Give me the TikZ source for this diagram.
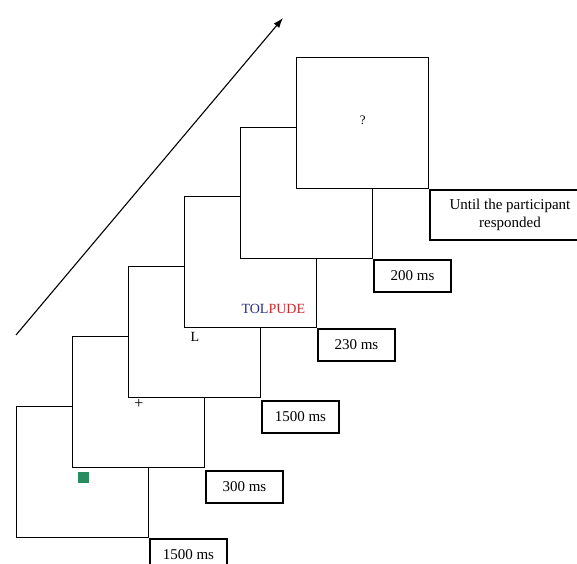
\documentclass[tikz,border=0pt]{standalone}
\usepackage{xcolor}
\usepackage{fontspec}
\setmainfont{Liberation Serif}
\usepackage{tikz}
\usetikzlibrary{arrows.meta, positioning}
\definecolor{tolblue}{RGB}{40,45,140}
\definecolor{pudered}{RGB}{205,40,45}
\definecolor{cuegreen}{RGB}{40,140,95}
\tikzset{
    screen/.style={
        rectangle, draw=black, fill=white, line width=1.3pt, inner sep=0pt,
        minimum width=132pt, minimum height=131pt, anchor=north west
    },
    duration/.style={
        rectangle, draw=black, fill=white, line width=1.3pt, inner sep=0pt,
        minimum width=77pt, minimum height=32pt, anchor=north west,
        font=\fontsize{15}{17}\selectfont
    },
    duration_wide/.style={
        duration, minimum width=160pt, minimum height=50pt, align=center,
        font=\fontsize{15}{18}\selectfont
    },
    cue/.style={
        rectangle, fill=cuegreen, inner sep=0pt, minimum size=11pt, anchor=north west
    },
    stim/.style={
        inner sep=0pt, font=\fontsize{14}{16}\selectfont
    },
    arrow/.style={
        line width=1.1pt, -{Latex[length=10pt, width=7pt]}, draw=black
    }
}

\begin{document}
\begin{tikzpicture}[x=1pt, y=-1pt]
    \useasboundingbox (0,0) rectangle (577,563);

    % trial screens, back to front
    \node[screen] (scr1) at (16, 406) {};
    \node[screen] (scr2) at (72, 336) {};
    \node[screen] (scr3) at (128, 266) {};
    \node[screen] (scr4) at (184, 196) {};
    \node[screen] (scr5) at (240, 127) {};
    \node[screen] (scr6) at (296, 57) {};

    % durations
    \node[duration] (dur1) at (scr1.south east) {1500 ms};
    \node[duration] (dur2) at ([yshift=-2pt]scr2.south east) {300 ms};
    \node[duration] (dur3) at ([yshift=-2pt]scr3.south east) {1500 ms};
    \node[duration] (dur4) at (scr4.south east) {230 ms};
    \node[duration] (dur5) at (scr5.south east) {200 ms};
    \node[duration_wide] (dur6) at (scr6.south east) {Until the participant\\responded};

    % stimuli
    \node[cue] (cue) at ([xshift=6pt, yshift=-3pt]scr2.south west) {};
    \node[stim, font=\fontsize{16}{18}\selectfont] (fix) at ([xshift=11pt, yshift=-6pt]scr3.south west) {+};
    \node[stim] (letter) at ([xshift=11pt, yshift=-9pt]scr4.south west) {L};
    \node[stim] (word) at ([xshift=-44pt, yshift=19pt]scr4.south east) {\textcolor{tolblue}{TOL}\textcolor{pudered}{PUDE}};
    \node[stim, font=\fontsize{13}{15}\selectfont] (probe) at ([yshift=3pt]scr6.center) {?};

    % time axis
    \coordinate (tstart) at (16, 335);
    \coordinate (tend) at (283, 18);
    \draw[arrow] (tstart) -- (tend);
\end{tikzpicture}
\end{document}
